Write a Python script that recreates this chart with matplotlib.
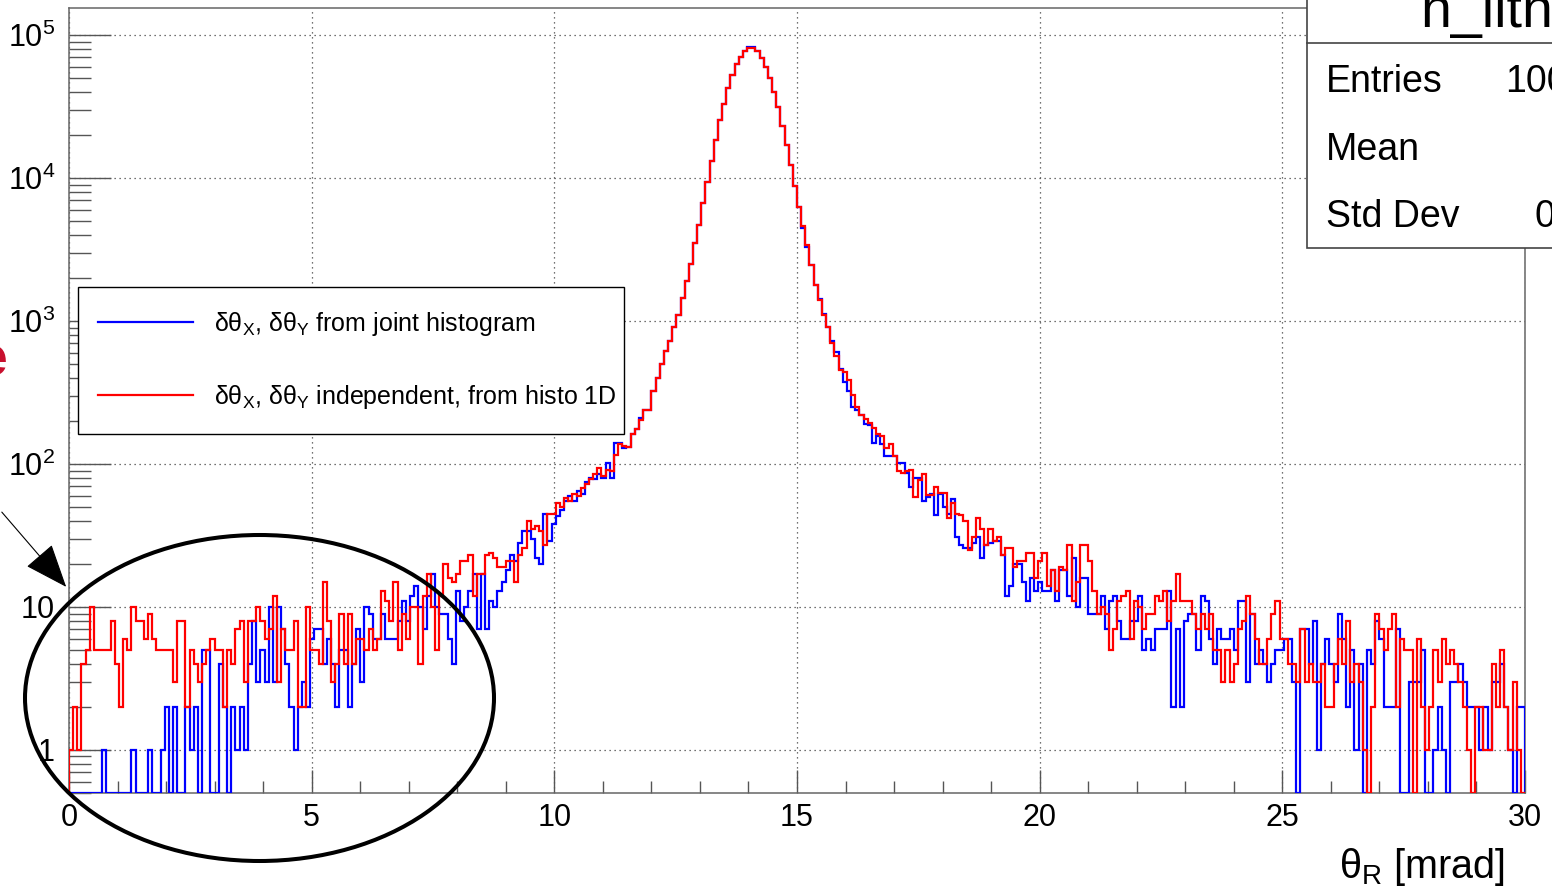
import numpy as np
import matplotlib
matplotlib.use("Agg")
import matplotlib.pyplot as plt
from matplotlib.patches import Ellipse, Rectangle, FancyArrowPatch
from matplotlib.lines import Line2D
from matplotlib.ticker import FixedLocator, FixedFormatter, MultipleLocator, LogLocator, NullFormatter

plt.rcParams['font.family'] = ['Liberation Sans', 'DejaVu Sans']
plt.rcParams['mathtext.fontset'] = 'custom'
plt.rcParams['mathtext.rm'] = 'Liberation Sans'
plt.rcParams['mathtext.it'] = 'Liberation Sans'
plt.rcParams['mathtext.bf'] = 'Liberation Sans:bold'

# ---------------- data (350 bins, 0-30 mrad) ----------------
x_min, x_max, n_bins = 0.0, 30.0, 350

red_counts = [
    1, 2, 1, 4, 5, 10, 5, 5, 5, 5,
    8, 4, 2, 6, 5, 10, 8, 8, 6, 9,
    6, 5, 5, 5, 5, 3, 8, 8, 2, 5,
    4, 3, 4, 5, 6, 5, 5, 2, 5, 4,
    7, 8, 3, 8, 8, 10, 8, 6, 7, 12,
    3, 7, 5, 5, 8, 2, 2, 10, 5, 5,
    4, 15, 8, 3, 4, 9, 4, 9, 4, 6,
    6, 5, 7, 5, 6, 13, 11, 8, 15, 5,
    9, 6, 10, 10, 4, 12, 17, 10, 5, 12,
    20, 16, 15, 17, 21, 21, 23, 12, 17, 17,
    23, 24, 22, 19, 19, 21, 21, 15, 23, 26,
    40, 35, 37, 34, 27, 45, 45, 53, 50, 58,
    55, 62, 60, 68, 72, 78, 85, 93, 82, 91,
    90, 115, 139, 133, 132, 162, 175, 203, 238, 240,
    324, 397, 497, 614, 720, 908, 1100, 1450, 1900, 2500,
    3500, 4700, 6700, 9400, 13200, 18500, 25600, 33000, 42500, 52500,
    63000, 70000, 77000, 81000, 81000, 77000, 68700, 60000, 50000, 40000,
    31500, 23000, 17000, 12300, 8800, 6300, 4600, 3400, 2450, 1780,
    1400, 1100, 910, 705, 570, 455, 440, 385, 305, 250,
    220, 205, 192, 178, 162, 157, 129, 137, 113, 90,
    86, 89, 91, 59, 77, 85, 61, 61, 69, 63,
    63, 42, 53, 45, 44, 40, 25, 31, 42, 35,
    27, 35, 29, 31, 23, 26, 26, 19, 21, 21,
    24, 24, 16, 21, 24, 14, 18, 13, 19, 18,
    27, 11, 15, 27, 27, 21, 13, 9, 10, 9,
    5, 7, 11, 12, 13, 6, 11, 10, 7, 9,
    9, 12, 11, 13, 8, 11, 17, 11, 11, 11,
    9, 7, 9, 7, 9, 5, 5, 3, 5, 3,
    4, 7, 8, 12, 9, 6, 4, 4, 6, 9,
    11, 6, 6, 4, 4, 3, 7, 3, 4, 3,
    3, 4, 2, 2, 4, 6, 4, 8, 3, 4,
    3, 1, 0, 2, 9, 7, 5, 7, 9, 2,
    6, 5, 5, 0, 6, 2, 1, 2, 5, 3,
    6, 4, 5, 4, 3, 2, 1, 0, 2, 2,
    1, 1, 4, 2, 5, 2, 1, 3, 1, 0,
]

blue_counts = [
    0, 0, 0, 0, 0, 0, 0, 0, 1, 0,
    0, 0, 0, 0, 0, 1, 0, 0, 0, 1,
    0, 0, 1, 2, 0, 2, 0, 0, 2, 1,
    2, 0, 5, 5, 0, 0, 4, 2, 0, 2,
    1, 2, 1, 4, 8, 3, 5, 3, 10, 3,
    10, 7, 4, 2, 1, 2, 3, 2, 6, 7,
    7, 4, 6, 4, 2, 5, 5, 2, 4, 7,
    3, 10, 9, 6, 6, 9, 6, 6, 6, 8,
    11, 8, 12, 14, 10, 7, 12, 17, 10, 9,
    9, 6, 4, 13, 8, 10, 13, 17, 7, 17,
    7, 11, 10, 13, 15, 18, 23, 21, 28, 34,
    34, 30, 22, 20, 45, 29, 38, 43, 48, 55,
    60, 55, 65, 62, 75, 80, 78, 85, 80, 102,
    80, 140, 141, 130, 132, 162, 175, 210, 238, 240,
    324, 397, 497, 614, 720, 908, 1100, 1450, 1900, 2500,
    3500, 4700, 6700, 9400, 13200, 18500, 25600, 33000, 42500, 52500,
    63000, 70000, 77000, 82000, 82000, 77000, 68700, 60000, 50000, 40000,
    31500, 23000, 17000, 12300, 8800, 6300, 4500, 3300, 2450, 1780,
    1420, 1120, 910, 720, 610, 459, 377, 324, 251, 240,
    220, 190, 188, 141, 157, 139, 113, 113, 114, 101,
    101, 87, 69, 80, 80, 55, 59, 62, 44, 62,
    50, 45, 57, 31, 27, 26, 26, 28, 31, 22,
    27, 28, 29, 29, 23, 12, 14, 20, 20, 15,
    11, 16, 13, 15, 13, 13, 18, 11, 18, 18,
    12, 22, 10, 16, 16, 9, 9, 9, 12, 7,
    11, 12, 8, 6, 6, 8, 8, 12, 5, 6,
    5, 7, 7, 7, 13, 2, 7, 2, 8, 9,
    9, 5, 12, 11, 6, 4, 7, 6, 6, 7,
    5, 11, 11, 3, 9, 4, 5, 4, 3, 4,
    5, 5, 6, 6, 3, 0, 7, 7, 4, 8,
    1, 4, 6, 4, 3, 9, 6, 2, 5, 1,
    4, 0, 5, 4, 8, 6, 2, 2, 2, 7,
    0, 0, 3, 3, 3, 5, 0, 0, 1, 2,
    1, 0, 3, 3, 4, 3, 2, 2, 2, 1,
    2, 1, 3, 3, 4, 2, 1, 0, 2, 2,
]

x_tick_values = [0, 5, 10, 15, 20, 25, 30]
x_tick_labels = ["0", "5", "10", "15", "20", "25", "30"]
y_tick_values = [1, 10, 1e2, 1e3, 1e4, 1e5]
y_tick_labels = ["1", "10", r"$\mathrm{10^{2}}$", r"$\mathrm{10^{3}}$",
                 r"$\mathrm{10^{4}}$", r"$\mathrm{10^{5}}$"]

legend_labels = [r"$\mathrm{δθ_{X}}$, $\mathrm{δθ_{Y}}$ from joint histogram",
                 r"$\mathrm{δθ_{X}}$, $\mathrm{δθ_{Y}}$ independent, from histo 1D"]
stat_names = ["Entries", "Mean", "Std Dev"]

# ---------------- figure ----------------
W, H = 1552, 892
fig = plt.figure(figsize=(W / 100, H / 100), dpi=100)


def fx(p):
    return p / W


def fy(p):
    return 1 - p / H


ax = fig.add_axes([fx(69), fy(793), fx(1525) - fx(69), fy(8) - fy(793)])

y_lo, y_hi = 0.5, 1.545e5
edges = np.linspace(x_min, x_max, n_bins + 1)
blue_arr = np.array(blue_counts, dtype=float)
red_arr = np.array(red_counts, dtype=float)
ax.stairs(np.where(blue_arr > 0, blue_arr, y_lo), edges, color="#0000ff", lw=1.6, zorder=3)
ax.stairs(np.where(red_arr > 0, red_arr, y_lo), edges, color="#ff0000", lw=1.6, zorder=4)

ax.set_yscale("log")
ax.set_xlim(x_min, x_max)
ax.set_ylim(y_lo, y_hi)

ax.xaxis.set_major_locator(FixedLocator(x_tick_values))
ax.xaxis.set_major_formatter(FixedFormatter(x_tick_labels))
ax.xaxis.set_minor_locator(MultipleLocator(1))
ax.yaxis.set_major_locator(FixedLocator(y_tick_values))
ax.yaxis.set_major_formatter(FixedFormatter(y_tick_labels))
ax.yaxis.set_minor_locator(LogLocator(base=10, subs=np.arange(2, 10), numticks=30))
ax.yaxis.set_minor_formatter(NullFormatter())

tick_col = "#555555"
ax.tick_params(axis="x", which="major", direction="in", length=16.5, width=1.0,
               color=tick_col, labelsize=22, pad=7, top=False)
ax.tick_params(axis="x", which="minor", direction="in", length=8.6, width=1.0,
               color=tick_col, top=False)
ax.tick_params(axis="y", which="major", direction="in", length=30, width=1.0,
               color=tick_col, labelsize=22, pad=10, right=False)
ax.tick_params(axis="y", which="minor", direction="in", length=16, width=1.0,
               color=tick_col, right=False)

ax.grid(True, which="major", linestyle=(0, (1, 3)), color="#444444", lw=0.9)
for s in ax.spines.values():
    s.set_color("#666666")
    s.set_linewidth(1.1)

# ---------------- legend ----------------
fig.add_artist(Rectangle((fx(78), fy(434)), fx(624) - fx(78), fy(287) - fy(434),
                         transform=fig.transFigure, fc="white", ec="black", lw=1.0, zorder=5))
for ypix, col, lab in [(322, "#0000ff", legend_labels[0]), (395, "#ff0000", legend_labels[1])]:
    fig.add_artist(Line2D([fx(98), fx(193)], [fy(ypix), fy(ypix)], color=col, lw=1.6,
                          transform=fig.transFigure, zorder=6))
    fig.text(fx(214), fy(ypix + 9), lab, fontsize=18.0, va="baseline", ha="left", zorder=6)

# ---------------- stats box ----------------
fig.add_artist(Rectangle((fx(1307), fy(248)), fx(1700) - fx(1307), fy(-30) - fy(248),
                         transform=fig.transFigure, fc="white", ec="#444444", lw=1.2, zorder=5))
fig.add_artist(Line2D([fx(1307), fx(1560)], [fy(43), fy(43)], color="#444444", lw=1.2,
                      transform=fig.transFigure, zorder=6))
fig.text(fx(1420), fy(27), "h_llth", fontsize=40, va="baseline", ha="left", zorder=6)
for name, ypix in zip(stat_names, [80, 148, 215]):
    fig.text(fx(1326), fy(ypix + 2), name, fontsize=27, va="center", ha="left", zorder=6)
fig.text(fx(1505), fy(82), "1000000", fontsize=27, va="center", ha="left", zorder=6)
fig.text(fx(1535), fy(217), "0.9", fontsize=27, va="center", ha="left", zorder=6)

# ---------------- axis title ----------------
fig.text(fx(1505), fy(878), r"$\mathrm{θ_{R}}$ [mrad]", fontsize=28.5, ha="right", va="baseline")

# ---------------- annotations ----------------
fig.add_artist(Ellipse((fx(259.5), fy(698)), fx(469), 326 / H, transform=fig.transFigure,
                       fill=False, ec="black", lw=2.9, zorder=7))
fig.add_artist(FancyArrowPatch((fx(0), fy(510)), (fx(68), fy(589)), transform=fig.transFigure,
                               arrowstyle="-|>,head_length=1.4,head_width=0.55", mutation_scale=20,
                               color="black", lw=0.8, zorder=7))
fig.text(fx(8), fy(362), "e", fontsize=40, fontweight="bold", color="#c8102e",
         ha="right", va="center")

fig.savefig("out.png", dpi=100)
